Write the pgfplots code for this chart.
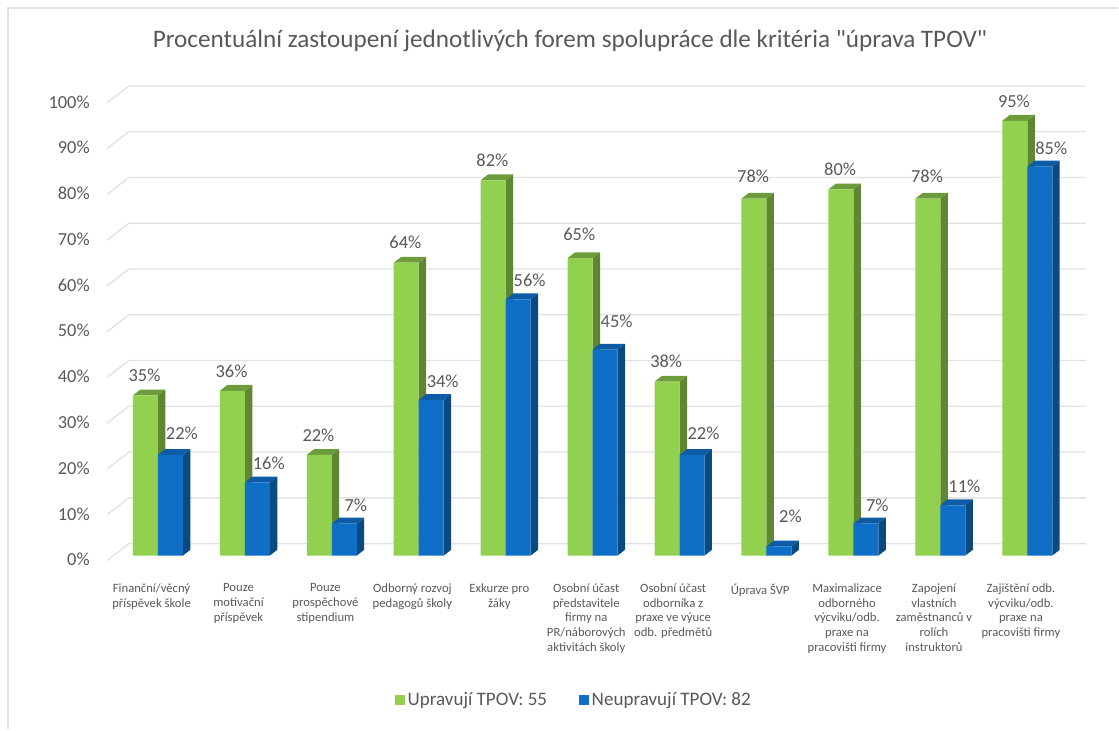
\documentclass[border=0pt]{standalone}
\usepackage{fontspec}
\setmainfont{Carlito}
\newfontfamily\plainfont{Carlito}
\usepackage{pgfplots}
\usepackage{pgfplotstable}
\pgfplotsset{compat=1.18}
\definecolor{txt}{HTML}{595959}
\definecolor{gridc}{HTML}{E2E2E2}
\definecolor{gfront}{HTML}{92D14F}
\definecolor{gside}{HTML}{5F8733}
\definecolor{gtop}{HTML}{6E9C3C}
\definecolor{bfront}{HTML}{0F6FC6}
\definecolor{bside}{HTML}{0A4A80}
\definecolor{btop}{HTML}{0D5CA5}
\pgfplotstableread{
x green
0 35
1 36
2 22
3 64
4 82
5 65
6 38
7 78
8 80
9 78
10 95
}\greendata
\pgfplotstableread{
x blue
0 22
1 16
2 7
3 34
4 56
5 45
6 22
7 2
8 7
9 11
10 85
}\bluedata
% 3D side and top faces of a bar: left edge, right edge, value, colours
\newcommand{\faces}[5]{%
  \addplot[fill=#4,draw=none,forget plot] coordinates {({#2},0) ({(#2)+0.086},1.28) ({(#2)+0.086},{#3+1.28}) ({#2},#3)} --cycle;
  \addplot[fill=#5,draw=none,forget plot] coordinates {({#1},#3) ({(#1)+0.086},{#3+1.28}) ({(#2)+0.086},{#3+1.28}) ({#2},#3)} --cycle;
}
\newcommand{\gf}[2]{\faces{#1-0.2874}{#1}{#2}{gside}{gtop}}
\newcommand{\bfc}[2]{\faces{#1}{#1+0.2874}{#2}{bside}{btop}}
\newcommand{\gridl}[1]{%
  \addplot[gridc,line width=1pt,forget plot] coordinates {(-0.586,{#1-1.09}) (-0.3333,{#1+2.62}) (10.678,{#1+2.62})};
}
\begin{document}
\begin{tikzpicture}
\begin{axis}[
  scale only axis,
  width=839.25pt,height=547.5pt,
  xmin=-1.8161,xmax=11.046,
  ymin=-37.99,ymax=121.40,
  clip=false,
  axis line style={draw=none},
  tick style={draw=none},
  major tick length=0pt,
  /pgf/number format/assume math mode=true,
  ytick={0,10,...,100},
  yticklabels={0\%,10\%,20\%,30\%,40\%,50\%,60\%,70\%,80\%,90\%,100\%},
  yticklabel style={font=\fontsize{13.8}{15}\selectfont,text=txt,xshift=67.5pt,yshift=-3pt,anchor=east,inner sep=0pt},
  xtick={0,...,10},
  xticklabels={
    {Finanční/věcný\\příspěvek škole},
    {Pouze\\motivační\\příspěvek},
    {Pouze\\prospěchové\\stipendium},
    {Odborný rozvoj\\pedagogů školy},
    {Exkurze pro\\žáky},
    {Osobní účast\\představitele\\firmy na\\PR/náborových\\aktivitách školy},
    {Osobní účast\\odborníka z\\praxe ve výuce\\odb. předmětů},
    {Úprava ŠVP},
    {Maximalizace\\odborného\\výcviku/odb.\\praxe na\\pracovišti firmy},
    {Zapojení\\vlastních\\zaměstnanců v\\rolích\\instruktorů},
    {Zajištění odb.\\výcviku/odb.\\praxe na\\pracovišti firmy}},
  xticklabel style={font=\fontsize{9.5}{11}\selectfont,text=txt,align=center,anchor=north,xshift=-4.75pt,yshift=109.5pt,inner sep=0pt},
  legend style={draw=none,fill=none,at={(0.5135,0.041)},anchor=center,legend columns=2,
    font=\fontsize{14.3}{16}\selectfont,text=txt,
    /tikz/every even column/.append style={column sep=22pt}},
  legend cell align=left,
]
% outer frame of the chart
\addplot[gridc,line width=1.2pt,forget plot] coordinates {(-1.724,-37.99) (-1.724,119.65) (11.046,119.65)};
% walls
\gridl{0}\gridl{10}\gridl{20}\gridl{30}\gridl{40}\gridl{50}\gridl{60}\gridl{70}\gridl{80}\gridl{90}\gridl{100}
% green bars
\gf{0}{35}\gf{1}{36}\gf{2}{22}\gf{3}{64}\gf{4}{82}\gf{5}{65}\gf{6}{38}\gf{7}{78}\gf{8}{80}\gf{9}{78}\gf{10}{95}
\addplot[ybar,bar width=18.75pt,bar shift=-9.375pt,fill=gfront,draw=none,
  legend image code/.code={\fill[gfront] (0pt,-3.75pt) rectangle (7.5pt,3.75pt);},
  nodes near coords={\pgfmathprintnumber{\pgfplotspointmeta}\%},
  every node near coord/.append style={font=\fontsize{13.8}{15}\selectfont,text=txt,anchor=center,xshift=-10pt,yshift=15pt},
  coordinate style/.condition={\coordindex==5}{yshift=3pt},
  coordinate style/.condition={\coordindex==7 || \coordindex==9}{yshift=1.5pt}]
  table[x=x,y=green]{\greendata};
\addlegendentry{Upravují TPOV: 55}
% blue bars
\bfc{0}{22}\bfc{1}{16}\bfc{2}{7}\bfc{3}{34}\bfc{4}{56}\bfc{5}{45}\bfc{6}{22}\bfc{7}{2}\bfc{8}{7}\bfc{9}{11}\bfc{10}{85}
\addplot[ybar,bar width=18.75pt,bar shift=9.375pt,fill=bfront,draw=none,
  legend image code/.code={\fill[bfront] (0pt,-3.75pt) rectangle (7.5pt,3.75pt);},
  nodes near coords={\pgfmathprintnumber{\pgfplotspointmeta}\%},
  every node near coord/.append style={font=\fontsize{13.8}{15}\selectfont,text=txt,anchor=center,xshift=18pt,yshift=14pt},
  coordinate style/.condition={\coordindex==7}{yshift=9pt},
  coordinate style/.condition={\coordindex==5}{yshift=7pt},
  coordinate style/.condition={\coordindex==0 || \coordindex==6}{yshift=2pt}]
  table[x=x,y=blue]{\bluedata};
\addlegendentry{Neupravují TPOV: 82}
\node[font=\plainfont\fontsize{18.9}{21}\selectfont,text=txt,anchor=center] at (axis cs:4.74,112.4) {Procentuální zastoupení jednotlivých forem spolupráce dle kritéria "úprava TPOV"};
\end{axis}
\end{tikzpicture}
\end{document}
